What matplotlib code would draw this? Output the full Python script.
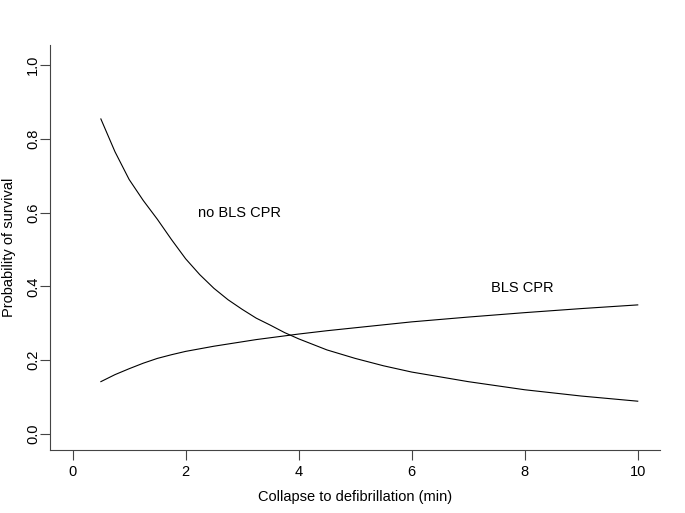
import numpy as np
import matplotlib.pyplot as plt

plt.rcParams['font.family'] = ['Liberation Sans', 'DejaVu Sans']

# minutes from collapse to defibrillation
minutes = [0.5, 0.75, 1, 1.25, 1.5, 1.75, 2, 2.25, 2.5, 2.75, 3, 3.25, 3.5,
           3.75, 4, 4.5, 5, 5.5, 6, 7, 8, 9, 10]
# probability of survival
no_bls = [0.854, 0.765, 0.69, 0.633, 0.582, 0.527, 0.475, 0.432, 0.395, 0.364,
          0.338, 0.314, 0.295, 0.275, 0.258, 0.228, 0.205, 0.185, 0.168,
          0.142, 0.12, 0.103, 0.089]
bls = [0.142, 0.161, 0.177, 0.192, 0.205, 0.215, 0.224, 0.231, 0.238, 0.244,
       0.25, 0.256, 0.261, 0.266, 0.271, 0.28, 0.288, 0.296, 0.304,
       0.317, 0.329, 0.34, 0.35]

xticks = [0, 2, 4, 6, 8, 10]
yticks = [0.0, 0.2, 0.4, 0.6, 0.8, 1.0]

fig = plt.figure(figsize=(6.85, 5.13), dpi=100)
ax = fig.add_axes([0.073, 0.123, 0.891, 0.789])

ax.plot(minutes, no_bls, color='black', lw=0.8)
ax.plot(minutes, bls, color='black', lw=0.8)

ax.text(2.96, 0.599, 'no BLS CPR', ha='center', va='center', fontsize=10.5)
ax.text(7.96, 0.396, 'BLS CPR', ha='center', va='center', fontsize=10.5)

ax.set_xlim(-0.4, 10.4)
ax.set_ylim(-0.043, 1.054)
ax.set_xticks(xticks)
ax.set_xticklabels([str(t) for t in xticks])
ax.set_yticks(yticks)
ax.set_yticklabels(['%.1f' % t for t in yticks], rotation=90, va='center')

for s in ['top', 'right']:
    ax.spines[s].set_visible(False)
for s in ['left', 'bottom']:
    ax.spines[s].set_color('#444444')
    ax.spines[s].set_linewidth(0.8)
ax.tick_params(length=7, width=0.8, color='#444444', labelsize=10.5)
ax.tick_params(axis='x', pad=4)
ax.tick_params(axis='y', pad=0)

ax.set_xlabel('Collapse to defibrillation (min)', fontsize=10.5, labelpad=8)
ax.set_ylabel('Probability of survival', fontsize=10.5, va='center')
ax.yaxis.set_label_coords(-0.068, 0.5)

plt.savefig('out.png', dpi=100)
